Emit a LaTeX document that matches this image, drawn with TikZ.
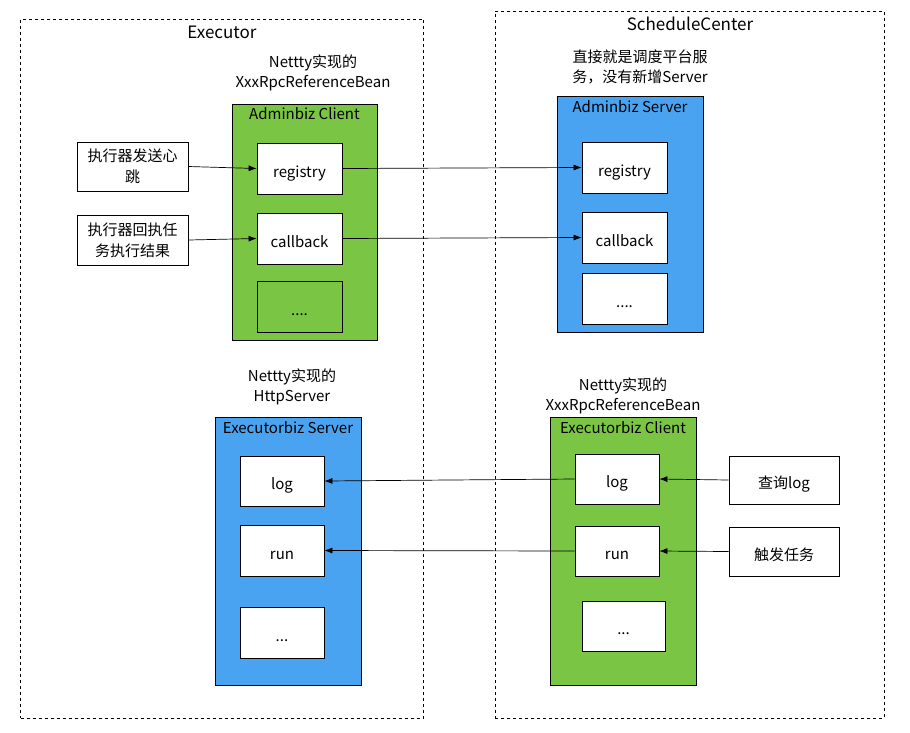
\documentclass[tikz,border=0pt]{standalone}
\usepackage{fontspec}
\setmainfont{Noto Sans CJK SC}
\usetikzlibrary{arrows.meta}
\definecolor{cgreen}{RGB}{122,197,67}
\definecolor{cblue}{RGB}{74,163,240}
\tikzset{
  txt/.style={font=\fontsize{15}{20}\selectfont, align=center, inner sep=0pt},
  ttl/.style={font=\fontsize{17}{20}\selectfont, inner sep=0pt},
  frame/.style={draw=black, line width=0.8pt, dash pattern=on 3pt off 3pt},
  mbox/.style={draw=black, line width=0.8pt, fill=white, font=\fontsize{15}{21}\selectfont, align=center, inner sep=0pt},
  wbox/.style={mbox, text height=17pt, text depth=0pt},
  gbox/.style={draw=black, line width=0.8pt, fill=cgreen, inner sep=0pt},
  bbox/.style={draw=black, line width=0.8pt, fill=cblue, inner sep=0pt},
  arr/.style={draw=black, line width=0.7pt, -{Latex[length=8pt,width=6pt]}},
}
\begin{document}
\begin{tikzpicture}[x=1pt,y=-1pt]
\useasboundingbox (0,0) rectangle (910,732);
% frames
\node[frame, minimum width=403pt, minimum height=699pt, inner sep=0pt] (exe) at (222,368.5) {};
\node[frame, minimum width=389pt, minimum height=707pt, inner sep=0pt] (sch) at (689.5,364.5) {};
\node[ttl] (exet) at (222,32) {Executor};
\node[ttl] (scht) at (690,24) {ScheduleCenter};
% notes
\node[txt] (n1) at (313,73) {Nettty实现的\\XxxRpcReferenceBean};
\node[txt] (n2) at (640,67) {直接就是调度平台服\\务，没有新增Server};
\node[txt] (n3) at (292,387) {Nettty实现的\\HttpServer};
\node[txt] (n4) at (623,395.5) {Nettty实现的\\XxxRpcReferenceBean};
% containers
\node[gbox, minimum width=145pt, minimum height=236pt] (ac) at (304.5,222) {};
\node[txt] (act) at ([yshift=-10pt]ac.north) {Adminbiz Client};
\node[bbox, minimum width=146pt, minimum height=236pt] (as) at (630,214) {};
\node[txt] (ast) at ([yshift=-11pt]as.north) {Adminbiz Server};
\node[bbox, minimum width=146pt, minimum height=268pt] (es) at (288,551) {};
\node[txt] (est) at ([yshift=-11pt]es.north) {Executorbiz Server};
\node[gbox, minimum width=146pt, minimum height=268pt] (ec) at (623,551) {};
\node[txt] (ect) at ([yshift=-11pt]ec.north) {Executorbiz Client};
% inner boxes
\node[wbox, minimum width=85pt, minimum height=51pt] (aregC) at (299.5,168.5) {registry};
\node[wbox, minimum width=85pt, minimum height=51pt] (acbC) at (299.5,238.5) {callback};
\node[wbox, fill=cgreen, minimum width=85pt, minimum height=51pt] (adotC) at (299.5,306.5) {....};
\node[wbox, minimum width=85pt, minimum height=51pt] (aregS) at (624.5,167.5) {registry};
\node[wbox, minimum width=85pt, minimum height=51pt] (acbS) at (624.5,237.5) {callback};
\node[wbox, minimum width=85pt, minimum height=51pt] (adotS) at (624.5,298.5) {....};
\node[wbox, minimum width=84pt, minimum height=50pt] (elogS) at (282,481) {log};
\node[wbox, minimum width=84pt, minimum height=51pt] (erunS) at (282,550.5) {run};
\node[wbox, minimum width=84pt, minimum height=51pt] (edotS) at (282,632.5) {...};
\node[wbox, minimum width=84pt, minimum height=50pt] (elogC) at (617,479) {log};
\node[wbox, minimum width=84pt, minimum height=50pt] (erunC) at (617,551) {run};
\node[wbox, minimum width=83pt, minimum height=50pt] (edotC) at (623.5,626) {...};
% outer triggers
\node[mbox, minimum width=111pt, minimum height=49pt] (hb) at (132.5,166.5) {执行器发送心\\跳};
\node[mbox, minimum width=111pt, minimum height=50pt] (cbin) at (132.5,240) {执行器回执任\\务执行结果};
\node[wbox, minimum width=110pt, minimum height=48pt] (qlog) at (784,480) {查询log};
\node[wbox, minimum width=110pt, minimum height=49pt] (trig) at (784,551.5) {触发任务};
% arrows
\draw[arr] (hb.east) -- (aregC.west);
\draw[arr] (cbin.east) -- (acbC.west);
\draw[arr] (aregC.east) -- (aregS.west);
\draw[arr] (acbC.east) -- (acbS.west);
\draw[arr] (qlog.west) -- (elogC.east);
\draw[arr] (trig.west) -- (erunC.east);
\draw[arr] (elogC.west) -- (elogS.east);
\draw[arr] (erunC.west) -- (erunS.east);
\end{tikzpicture}
\end{document}
